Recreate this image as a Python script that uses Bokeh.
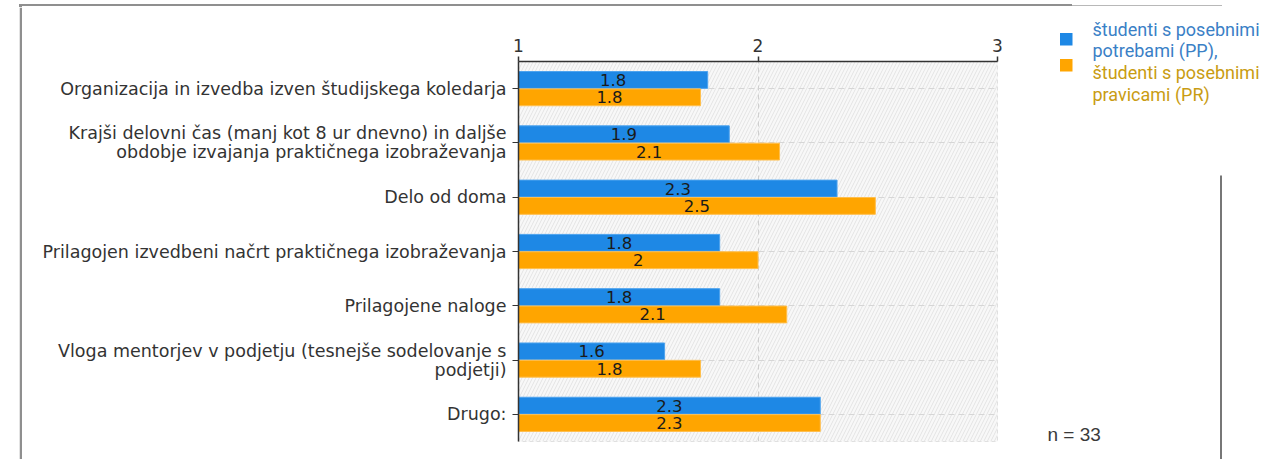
from bokeh.plotting import figure
from bokeh.models import (ColumnDataSource, FactorRange, Range1d, FixedTicker,
                          LabelSet, BoxAnnotation, Div)
from bokeh.core.properties import value
from bokeh.transform import dodge
from bokeh.layouts import row, column
from bokeh.embed import file_html
from bokeh.resources import INLINE

categories = [
    "Organizacija in izvedba izven študijskega koledarja",
    "Krajši delovni čas (manj kot 8 ur dnevno) in daljše\nobdobje izvajanja praktičnega izobraževanja",
    "Delo od doma",
    "Prilagojen izvedbeni načrt praktičnega izobraževanja",
    "Prilagojene naloge",
    "Vloga mentorjev v podjetju (tesnejše sodelovanje s\npodjetji)",
    "Drugo:",
]
pp = [1.79, 1.88, 2.33, 1.84, 1.84, 1.61, 2.26]
pr = [1.76, 2.09, 2.49, 2.00, 2.12, 1.76, 2.26]
x_ticks = [1, 2, 3]
series_names = ["študenti s posebnimi\npotrebami  (PP),", "študenti s posebnimi\npravicami (PR)"]
n_text = "n = 33"

BLUE = "#1e88e5"
ORANGE = "#ffa500"
AXIS_FONT = "DejaVu Sans"
BOX_GRAY = "#8f8f8f"

# overall geometry (px)
TOTAL_W, TOTAL_H = 1262, 459
TOP_H = 7          # top strip height
LEFT_W = 22        # left strip width
SIDE_X = 1040      # where the side (legend) panel starts
MAIN_W = SIDE_X - LEFT_W
SIDE_W = TOTAL_W - SIDE_X
BODY_H = TOTAL_H - TOP_H
FRAME_L, FRAME_R, FRAME_T, FRAME_B = 518, 997, 61, 441


def no_align(f):
    if "frame_align" in f.properties():
        f.frame_align = False
    return f


def fmt(v):
    s = f"{v:.1f}"
    return s[:-2] if s.endswith(".0") else s


def blank(w, h, xr, yr):
    f = figure(width=w, height=h, output_backend="svg", toolbar_location=None,
               x_range=Range1d(*xr), y_range=Range1d(*yr),
               x_axis_type=None, y_axis_type=None, min_border=0)
    f.title = None
    f.outline_line_color = None
    f.background_fill_color = "white"
    f.border_fill_color = "white"
    return no_align(f)


base = min(x_ticks)
src = ColumnDataSource(dict(
    cat=categories,
    pp=pp, pr=pr,
    pp_mid=[(base + v) / 2 for v in pp],
    pr_mid=[(base + v) / 2 for v in pr],
    pp_lab=[fmt(v) for v in pp],
    pr_lab=[fmt(v) for v in pr],
))

# ---------------- main chart ----------------
p = figure(width=MAIN_W, height=BODY_H, output_backend="svg", toolbar_location=None,
           y_range=FactorRange(*reversed(categories)),
           x_range=Range1d(min(x_ticks), max(x_ticks)),
           x_axis_location="above",
           min_border_left=FRAME_L - LEFT_W, min_border_right=SIDE_X - FRAME_R,
           min_border_top=FRAME_T - TOP_H, min_border_bottom=TOTAL_H - FRAME_B)
no_align(p)
p.background_fill_color = "#f8f8f8"
p.border_fill_color = "white"
p.outline_line_color = "#d8d8d8"
p.outline_line_dash = "4 3"

hatch = BoxAnnotation(fill_color="#f8f8f8", fill_alpha=1.0, line_color=None,
                      hatch_pattern="/", hatch_color="#e4e4e4", hatch_scale=7,
                      hatch_weight=1, level="underlay")
p.center = [hatch] + list(p.center)

bh = 0.31
off = 0.16
p.hbar(y=dodge("cat", off, range=p.y_range), left=base, right="pp", height=bh,
       source=src, fill_color=BLUE, line_color="#4da3ee", line_width=1)
p.hbar(y=dodge("cat", -off, range=p.y_range), left=base, right="pr", height=bh,
       source=src, fill_color=ORANGE, line_color="#ffbf4d", line_width=1)

for col, lab, o in (("pp_mid", "pp_lab", off), ("pr_mid", "pr_lab", -off)):
    p.add_layout(LabelSet(x=col, y=dodge("cat", o, range=p.y_range), text=lab,
                          source=src, text_align="center", text_baseline="middle",
                          text_font=value(AXIS_FONT), text_font_size=value("16.5px"),
                          text_color="#1a1a1a"))

p.xaxis.ticker = FixedTicker(ticks=x_ticks)
p.xaxis.minor_tick_line_color = None
p.xaxis.major_tick_out = 5
p.xaxis.major_tick_in = 0
p.xaxis.axis_line_color = "#333333"
p.xaxis.axis_line_width = 1.5
p.xaxis.major_tick_line_color = "#333333"
p.xaxis.major_tick_line_width = 1.5
p.xaxis.major_label_text_font = AXIS_FONT
p.xaxis.major_label_text_font_size = "17px"
p.xaxis.major_label_text_color = "#333333"
p.xaxis.major_label_standoff = 5

p.yaxis.axis_line_color = "#333333"
p.yaxis.axis_line_width = 1.5
p.yaxis.major_tick_line_color = "#333333"
p.yaxis.major_tick_out = 6
p.yaxis.major_tick_in = 0
p.yaxis.major_label_text_font = AXIS_FONT
p.yaxis.major_label_text_font_size = "17.5px"
p.yaxis.major_label_text_color = "#333333"
p.yaxis.major_label_text_line_height = 0.95
p.yaxis.major_label_standoff = 6

p.xgrid.grid_line_color = "#cfcfcf"
p.xgrid.grid_line_dash = "5 4"
p.ygrid.grid_line_color = "#d6d6d6"
p.ygrid.grid_line_dash = "6 4"

# ---------------- decorations: outer box ----------------
top_html = (
    '<div style="position:relative;width:%dpx;height:%dpx;overflow:hidden">'
    '<div style="position:absolute;left:19px;top:4px;width:1053px;height:2px;background:%s"></div>'
    '<div style="position:absolute;left:19px;top:4px;width:3px;height:%dpx;background:%s"></div>'
    '<div style="position:absolute;left:1072px;top:5px;width:150px;height:1px;background:#b8b8b8"></div>'
    '</div>' % (TOTAL_W, TOP_H, BOX_GRAY, TOP_H, BOX_GRAY)
)
top = Div(text=top_html, width=TOTAL_W, height=TOP_H, margin=0,
          styles={"overflow": "hidden", "line-height": "0"})

left = blank(LEFT_W, BODY_H, (0, LEFT_W), (TOTAL_H, TOP_H))
left.segment(x0=[20.5], y0=[TOP_H], x1=[20.5], y1=[TOTAL_H], line_color=BOX_GRAY, line_width=2.5)

# ---------------- side panel: legend + n ----------------
side = blank(SIDE_W, BODY_H, (SIDE_X, TOTAL_W), (TOTAL_H, TOP_H))
side.segment(x0=[1220.5], y0=[175], x1=[1220.5], y1=[TOTAL_H], line_color="#777777", line_width=2)

leg_colors = [BLUE, ORANGE]
leg_text_colors = ["#3a80c6", "#c99c12"]
sq_top = [32.5, 58.5]
line_y = [[28.5, 50], [72, 93.5]]
for i, name in enumerate(series_names):
    side.quad(left=[1059.5], right=[1072], top=[sq_top[i]], bottom=[sq_top[i] + 12.5],
              fill_color=leg_colors[i], line_color=None)
    lines = name.split("\n")
    side.text(x=[1092] * len(lines), y=line_y[i], text=lines,
              text_font=value("Roboto"), text_font_size="18px",
              text_color=leg_text_colors[i], text_baseline="middle", text_align="left")

side.text(x=[1047], y=[433.5], text=[n_text], text_font=value("Liberation Sans"),
          text_font_size="19px", text_color="#3a3a3a",
          text_baseline="middle", text_align="left")

layout = column(top, row(left, p, side))
open("out.html", "w").write(file_html(layout, INLINE))
